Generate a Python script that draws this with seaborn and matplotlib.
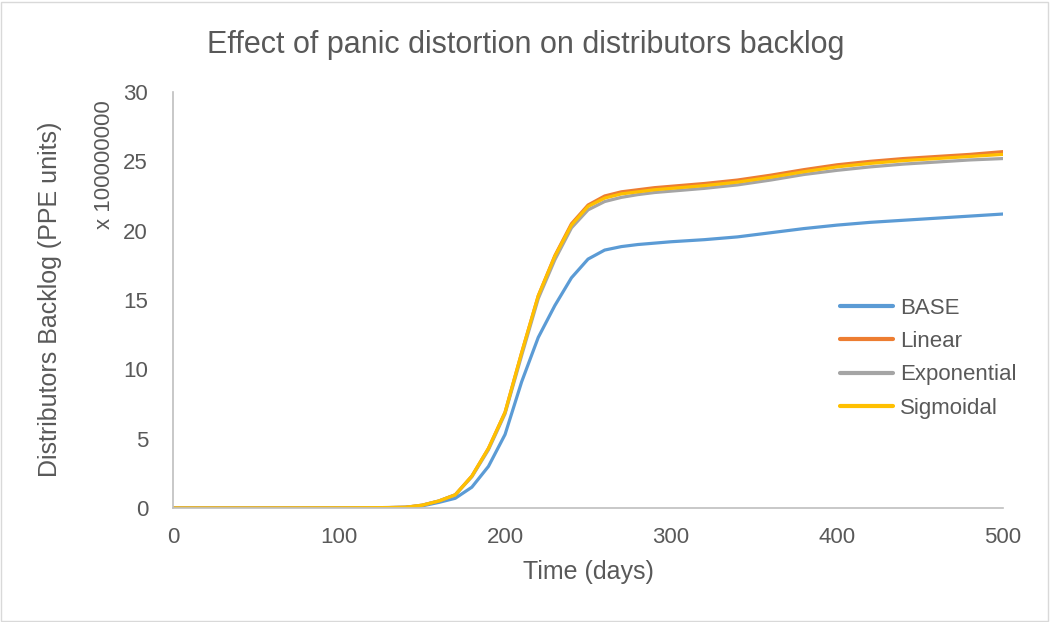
import matplotlib
matplotlib.use("Agg")
import matplotlib.pyplot as plt
import seaborn as sns
import pandas as pd
from matplotlib.patches import Rectangle

# Simulation output: distributors backlog (in units of 1e8 PPE) over time
days = [0, 50, 100, 130, 140, 150, 160, 170, 180, 190, 200, 210, 220, 230, 240,
        250, 260, 270, 280, 290, 300, 320, 340, 360, 380, 400, 420, 440, 460, 480, 500]

base = [0, 0, 0.01, 0.03, 0.05, 0.15, 0.4, 0.7, 1.5, 3.0, 5.3, 9.1, 12.3, 14.6, 16.6,
        17.95, 18.6, 18.85, 19.0, 19.1, 19.2, 19.35, 19.55, 19.85, 20.15, 20.4, 20.6,
        20.75, 20.9, 21.05, 21.2]
linear = [0, 0, 0.01, 0.03, 0.05, 0.2, 0.5, 0.95, 2.3, 4.3, 6.9, 11.2, 15.3, 18.2, 20.5,
          21.85, 22.5, 22.8, 22.95, 23.1, 23.2, 23.4, 23.65, 24.0, 24.4, 24.75, 25.0,
          25.2, 25.35, 25.5, 25.7]
exponential = [0, 0, 0.01, 0.03, 0.05, 0.2, 0.5, 0.95, 2.25, 4.2, 6.8, 11.0, 15.1, 17.9,
               20.2, 21.5, 22.1, 22.4, 22.6, 22.75, 22.85, 23.05, 23.3, 23.65, 24.05,
               24.35, 24.6, 24.8, 24.95, 25.1, 25.2]
sigmoidal = [0, 0, 0.01, 0.03, 0.05, 0.2, 0.5, 0.95, 2.3, 4.3, 6.9, 11.2, 15.3, 18.15,
             20.4, 21.75, 22.35, 22.65, 22.8, 22.95, 23.05, 23.25, 23.5, 23.85, 24.25,
             24.6, 24.85, 25.05, 25.2, 25.35, 25.5]

series_names = ["BASE", "Linear", "Exponential", "Sigmoidal"]
series_values = [base, linear, exponential, sigmoidal]
colors = ["#5B9BD5", "#ED7D31", "#A5A5A5", "#FFC000"]

x_ticks = [0, 100, 200, 300, 400, 500]
y_ticks = [0, 5, 10, 15, 20, 25, 30]

frames = []
for name, vals in zip(series_names, series_values):
    frames.append(pd.DataFrame({"Time": days, "Backlog": vals, "Scenario": name}))
df = pd.concat(frames, ignore_index=True)

sns.set_theme(style="white")
plt.rcParams["font.family"] = ["Liberation Sans", "DejaVu Sans"]
text_color = "#595959"

fig = plt.figure(figsize=(10.5, 6.22), dpi=100)
ax = fig.add_axes([0.1648, 0.1833, 0.7905, 0.6688])

sns.lineplot(data=df, x="Time", y="Backlog", hue="Scenario",
             hue_order=series_names, palette=colors, linewidth=2.3,
             ax=ax, legend=True)
for line in ax.get_lines():
    line.set_solid_joinstyle("round")
    line.set_solid_capstyle("round")

ax.set_xlim(0, 500)
ax.set_ylim(0, 30)
ax.set_xticks(x_ticks)
ax.set_yticks(y_ticks)
ax.tick_params(axis="both", length=0, labelsize=16, colors=text_color)
ax.tick_params(axis="x", pad=14)
ax.tick_params(axis="y", pad=18)

for side in ["top", "right"]:
    ax.spines[side].set_visible(False)
for side in ["left", "bottom"]:
    ax.spines[side].set_color("#BFBFBF")
    ax.spines[side].set_linewidth(1.2)
ax.grid(False)

ax.set_xlabel("Time (days)", fontsize=18, color=text_color, labelpad=8)
ax.set_ylabel("")
fig.text(0.048, 0.518, "Distributors Backlog (PPE units)", rotation=90,
         ha="center", va="center", fontsize=18, color=text_color)
fig.text(0.1, 0.735, "x 100000000", rotation=90, ha="center", va="center",
         fontsize=16, color=text_color)

fig.text(0.501, 0.927, "Effect of panic distortion on distributors backlog",
         ha="center", va="center", fontsize=22, color=text_color)

leg = ax.legend(loc="center left", bbox_to_anchor=(0.779, 0.36), frameon=False,
                fontsize=16, handlelength=2.4, handletextpad=0.3,
                labelspacing=0.55, labelcolor=text_color)
for line in leg.get_lines():
    line.set_linewidth(3)

fig.patches.append(Rectangle((0.001, 0.002), 0.997, 0.995, transform=fig.transFigure,
                             fill=False, edgecolor="#D9D9D9", linewidth=1))

fig.savefig("out.png", dpi=100, facecolor="white")
